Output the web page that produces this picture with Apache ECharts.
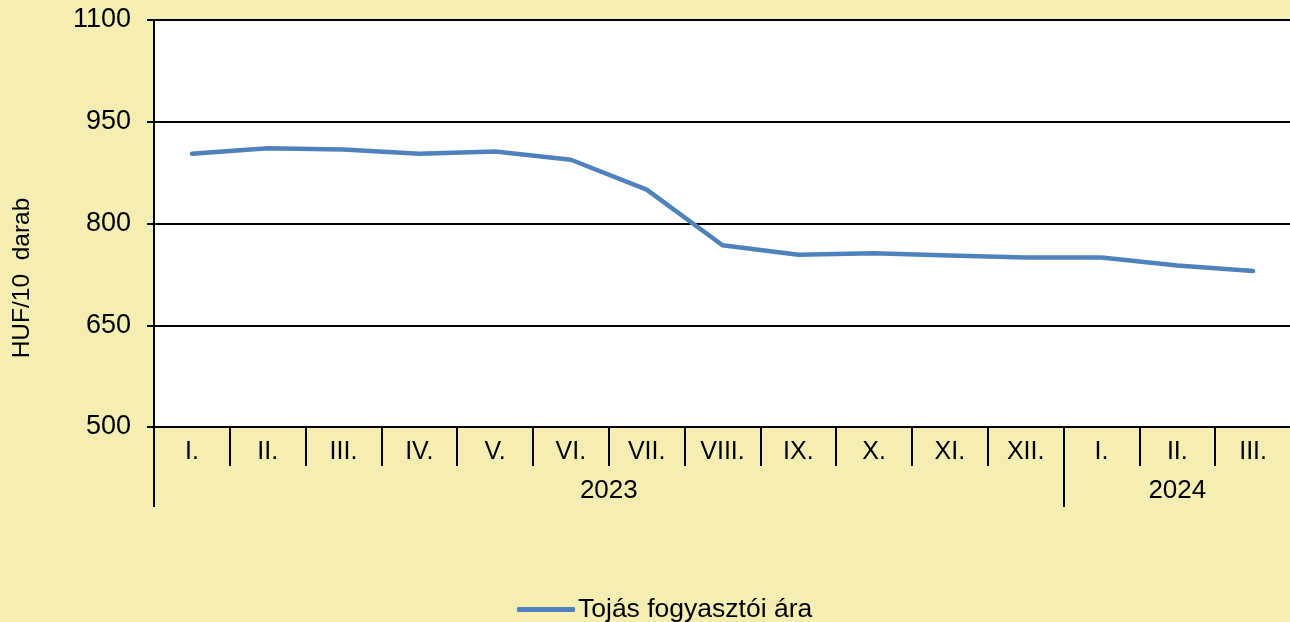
<!DOCTYPE html>
<html>
<head>
<meta charset="utf-8">
<script src="https://cdn.jsdelivr.net/npm/echarts@6/dist/echarts.min.js"></script>
<style>
html,body{margin:0;padding:0;background:#F5EEB3;}
#c{width:1290px;height:622px;}
</style>
</head>
<body>
<div id="c"></div>
<script>
const months = ['I.','II.','III.','IV.','V.','VI.','VII.','VIII.','IX.','X.','XI.','XII.','I.','II.','III.'];
const prices = [903, 911, 909, 903, 906, 894, 850, 768, 754, 756, 753, 750, 750, 738, 730];
const yearLabels = ['2023', '2024'];
const yearPositions = [6, 13.5];
const yearBoundaries = [0, 12];
const yTicks = { min: 500, max: 1100, interval: 150 };
const seriesName = 'Tojás fogyasztói ára';
const yTitle = 'HUF/10  darab';

const font = 'Arial, "Liberation Sans", sans-serif';
const chart = echarts.init(document.getElementById('c'));
chart.setOption({
  backgroundColor: '#F5EEB3',
  animation: false,
  textStyle: { fontFamily: font },
  grid: { left: 154, right: -1, top: 20, bottom: 195, outerBoundsMode: 'none', show: true, backgroundColor: '#ffffff', borderWidth: 0 },
  legend: {
    left: 512, top: 591,
    itemWidth: 58, itemHeight: 5,
    icon: 'roundRect',
    textStyle: { fontSize: 26.5, color: '#000', fontFamily: font, padding: [0,0,0,-2] },
    data: [seriesName]
  },
  graphic: [{
    type: 'text',
    x: 22, y: 278,
    rotation: Math.PI / 2,
    style: { text: yTitle, fontSize: 24.5, fontFamily: font, fill: '#000', textAlign: 'center', textVerticalAlign: 'middle' }
  }],
  xAxis: [{
    type: 'category',
    data: months,
    boundaryGap: true,
    axisLine: { lineStyle: { color: '#000', width: 2 } },
    axisTick: { show: true, interval: 0, length: 39, lineStyle: { color: '#000', width: 2 } },
    axisLabel: { interval: 0, margin: 13, fontSize: 25, color: '#000', fontFamily: font },
    splitLine: { show: false }
  }, {
    type: 'value',
    position: 'bottom',
    min: 0, max: months.length,
    axisLine: { show: false },
    axisTick: { show: true, length: 80, customValues: yearBoundaries, lineStyle: { color: '#000', width: 2 } },
    axisLabel: {
      show: true, margin: 51, fontSize: 26, color: '#000', fontFamily: font,
      customValues: yearPositions,
      formatter: function (v) { return yearLabels[yearPositions.indexOf(v)] || ''; }
    },
    splitLine: { show: false }
  }],
  yAxis: {
    type: 'value',
    min: yTicks.min, max: yTicks.max, interval: yTicks.interval,
    axisLine: { show: true, lineStyle: { color: '#000', width: 2 } },
    axisTick: { show: true, length: 7, lineStyle: { color: '#000', width: 2 } },
    axisLabel: { margin: 23, fontSize: 27, color: '#000', fontFamily: font, formatter: function (v) { return String(v); } },
    splitLine: { show: true, lineStyle: { color: '#000', width: 2 } }
  },
  series: [{
    name: seriesName,
    type: 'line',
    xAxisIndex: 0,
    data: prices,
    symbol: 'none',
    lineStyle: { color: '#4F81BD', width: 4.5, cap: 'round', join: 'round' },
    itemStyle: { color: '#4F81BD' }
  }]
});
</script>
</body>
</html>
